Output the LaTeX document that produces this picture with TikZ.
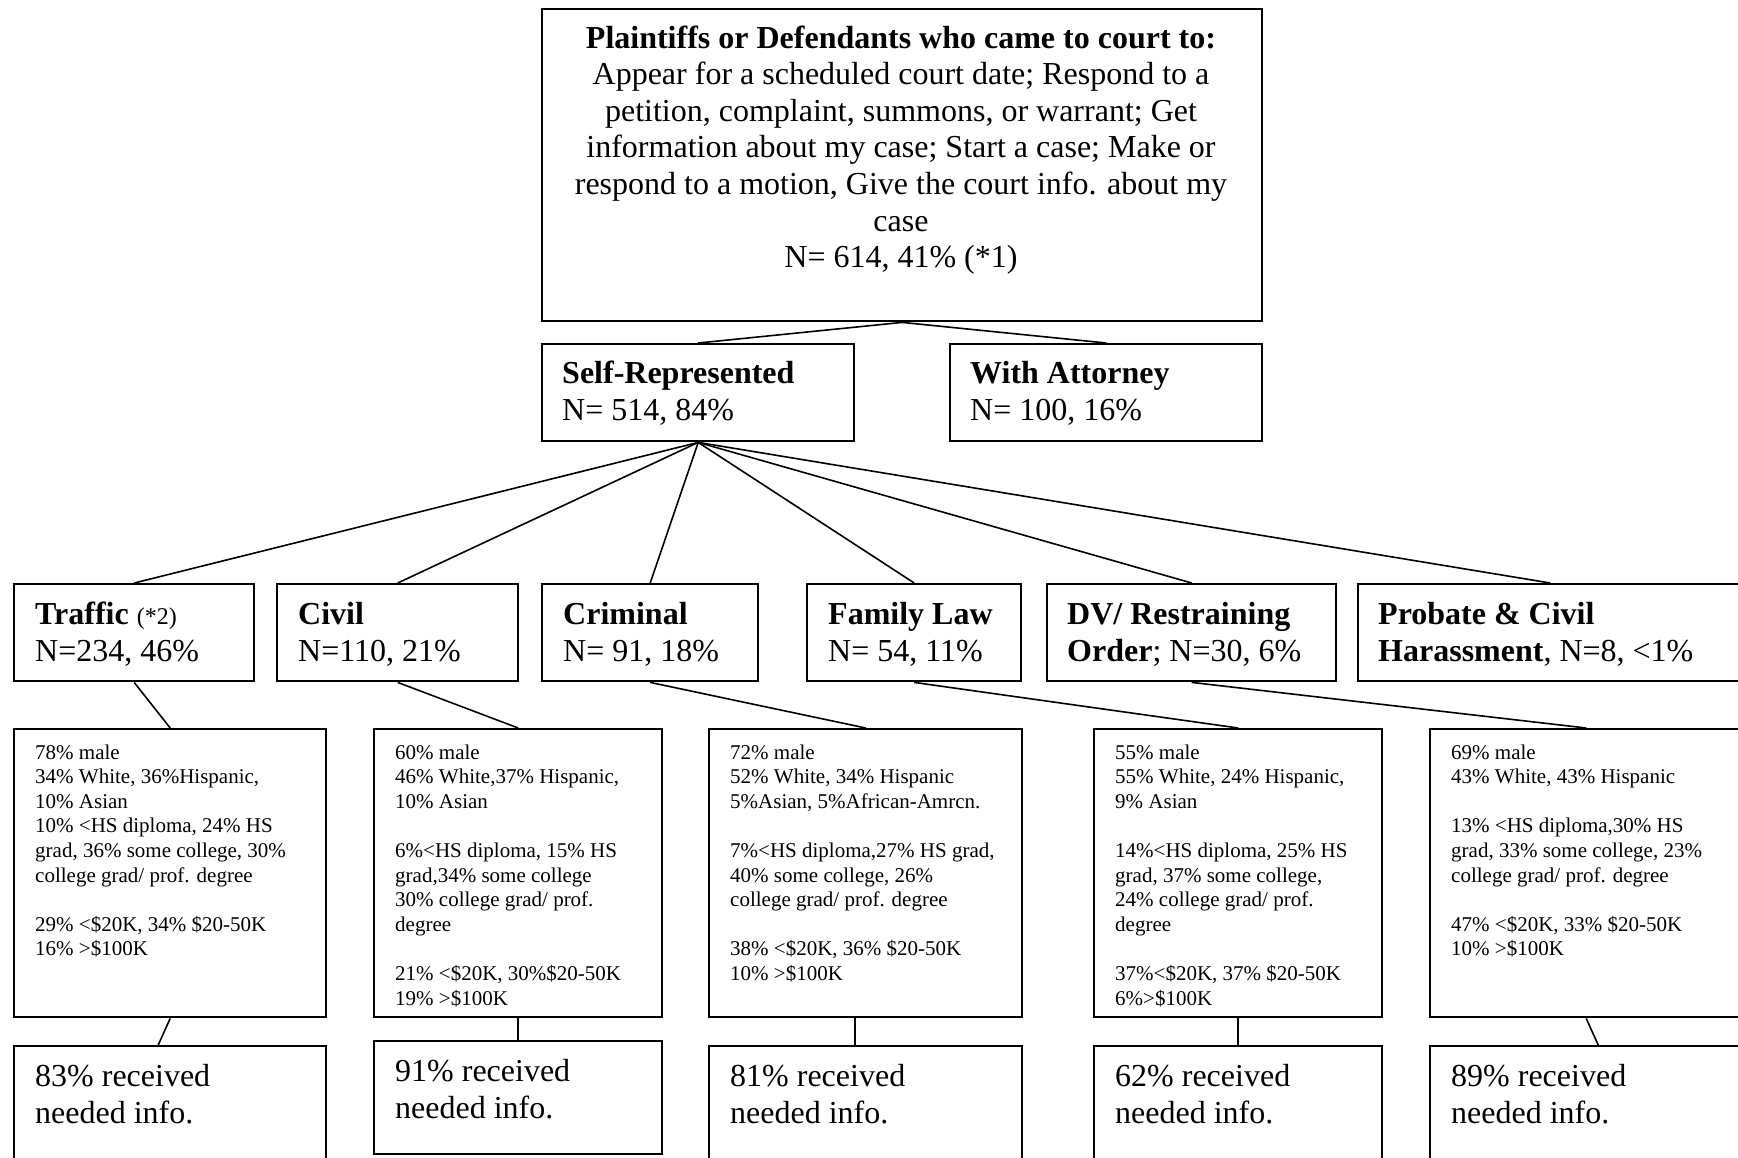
\documentclass[tikz,border=0pt]{standalone}
\usepackage{fontspec}
\setmainfont{Liberation Serif}
\usepackage{tikz}

% text lines whose anchor is the baseline of the first line
\newcommand{\leftlines}[1]{\begin{tabular}[t]{@{}l@{}}#1\end{tabular}}
\newcommand{\centerlines}[1]{\begin{tabular}[t]{@{}c@{}}#1\end{tabular}}

\begin{document}
\begin{tikzpicture}[x=0.5pt, y=-0.5pt, line width=1.2pt,
    box/.style={draw, rectangle, inner sep=0pt, anchor=north west},
    bigtext/.style={inner sep=0pt, anchor=base west, font=\fontsize{16}{18.5}\selectfont},
    smalltext/.style={inner sep=0pt, anchor=base west, font=\fontsize{10.5}{12.3}\selectfont},
    centertext/.style={inner sep=0pt, anchor=base, font=\fontsize{16}{18.3}\selectfont},
    link/.style={line width=0.8pt}]

    % fix page size
    \useasboundingbox (0, 0) rectangle (1738, 1157);
    \clip (0, 0) rectangle (1738, 1157);

    % draw top box
    \node[box, minimum width=360pt, minimum height=156pt] (top) at (541, 8) {};
    \node[centertext] (toptext) at (901, 48)
        {\centerlines{\textbf{Plaintiffs or Defendants who came to court to:}\\
         Appear for a scheduled court date; Respond to a\\
         petition, complaint, summons, or warrant; Get\\
         information about my case; Start a case; Make or\\
         respond to a motion, Give the court info. about my\\
         case\\
         N= 614, 41\% (*1)}};

    % draw representation boxes
    \node[box, minimum width=156pt, minimum height=48.5pt] (selfrep) at (541, 343) {};
    \node[box, minimum width=156pt, minimum height=48.5pt] (attorney) at (949, 343) {};
    \node[bigtext] (selfreptext) at (561, 383) {\leftlines{\textbf{Self-Represented}\\N= 514, 84\%}};
    \node[bigtext] (attorneytext) at (969, 383) {\leftlines{\textbf{With Attorney}\\N= 100, 16\%}};

    % draw case type boxes
    \node[box, minimum width=120pt, minimum height=48.5pt] (traffic) at (13, 583) {};
    \node[box, minimum width=120.5pt, minimum height=48.5pt] (civil) at (276, 583) {};
    \node[box, minimum width=108pt, minimum height=48.5pt] (criminal) at (541, 583) {};
    \node[box, minimum width=107pt, minimum height=48.5pt] (family) at (806, 583) {};
    \node[box, minimum width=144.5pt, minimum height=48.5pt] (dv) at (1046, 583) {};
    \node[box, minimum width=192pt, minimum height=48.5pt] (probate) at (1357, 583) {};
    \node[bigtext] (traffictext) at (34, 624) {\leftlines{\textbf{Traffic} {\fontsize{12}{14}\selectfont(*2)}\\N=234, 46\%}};
    \node[bigtext] (civiltext) at (297, 624) {\leftlines{\textbf{Civil}\\N=110, 21\%}};
    \node[bigtext] (criminaltext) at (562, 624) {\leftlines{\textbf{Criminal}\\N= 91, 18\%}};
    \node[bigtext] (familytext) at (827, 624) {\leftlines{\textbf{Family Law}\\N= 54, 11\%}};
    \node[bigtext] (dvtext) at (1066, 624) {\leftlines{\textbf{DV/ Restraining}\\\textbf{Order}; N=30, 6\%}};
    \node[bigtext] (probatetext) at (1377, 624) {\leftlines{\textbf{Probate \& Civil}\\\textbf{Harassment}, N=8, <1\%}};

    % draw profile boxes
    \node[box, minimum width=156pt, minimum height=144pt] (trafficdemo) at (13, 728) {};
    \node[box, minimum width=144pt, minimum height=144pt] (civildemo) at (373, 728) {};
    \node[box, minimum width=156.5pt, minimum height=144pt] (crimdemo) at (708, 728) {};
    \node[box, minimum width=144pt, minimum height=144pt] (dvdemo) at (1093, 728) {};
    \node[box, minimum width=156pt, minimum height=144pt] (probdemo) at (1429, 728) {};
    \node[smalltext] (trafficdemotext) at (34, 759)
        {\leftlines{78\% male\\34\% White, 36\%Hispanic,\\10\% Asian\\10\% <HS diploma, 24\% HS\\
         grad, 36\% some college, 30\%\\college grad/ prof. degree\\[12.3pt]
         29\% <\$20K, 34\% \$20-50K\\16\% >\$100K}};
    \node[smalltext] (civildemotext) at (394, 759)
        {\leftlines{60\% male\\46\% White,37\% Hispanic,\\10\% Asian\\[12.3pt]
         6\%<HS diploma, 15\% HS\\grad,34\% some college\\30\% college grad/ prof.\\degree\\[12.3pt]
         21\% <\$20K, 30\%\$20-50K\\19\% >\$100K}};
    \node[smalltext] (crimdemotext) at (729, 759)
        {\leftlines{72\% male\\52\% White, 34\% Hispanic\\5\%Asian, 5\%African-Amrcn.\\[12.3pt]
         7\%<HS diploma,27\% HS grad,\\40\% some college, 26\%\\college grad/ prof. degree\\[12.3pt]
         38\% <\$20K, 36\% \$20-50K\\10\% >\$100K}};
    \node[smalltext] (dvdemotext) at (1114, 759)
        {\leftlines{55\% male\\55\% White, 24\% Hispanic,\\9\% Asian\\[12.3pt]
         14\%<HS diploma, 25\% HS\\grad, 37\% some college,\\24\% college grad/ prof.\\degree\\[12.3pt]
         37\%<\$20K, 37\% \$20-50K\\6\%>\$100K}};
    \node[smalltext] (probdemotext) at (1450, 759)
        {\leftlines{69\% male\\43\% White, 43\% Hispanic\\[12.3pt]
         13\% <HS diploma,30\% HS\\grad, 33\% some college, 23\%\\college grad/ prof. degree\\[12.3pt]
         47\% <\$20K, 33\% \$20-50K\\10\% >\$100K}};

    % draw result boxes
    \node[box, minimum width=156pt, minimum height=56.5pt] (trafficres) at (13, 1045) {};
    \node[box, minimum width=144pt, minimum height=56.5pt] (civilres) at (373, 1040) {};
    \node[box, minimum width=156.5pt, minimum height=56.5pt] (crimres) at (708, 1045) {};
    \node[box, minimum width=144pt, minimum height=56.5pt] (dvres) at (1093, 1045) {};
    \node[box, minimum width=156pt, minimum height=56.5pt] (probres) at (1429, 1045) {};
    \node[bigtext] (trafficrestext) at (34, 1086) {\leftlines{83\% received\\needed info.}};
    \node[bigtext] (civilrestext) at (394, 1081) {\leftlines{91\% received\\needed info.}};
    \node[bigtext] (crimrestext) at (729, 1086) {\leftlines{81\% received\\needed info.}};
    \node[bigtext] (dvrestext) at (1114, 1086) {\leftlines{62\% received\\needed info.}};
    \node[bigtext] (probrestext) at (1450, 1086) {\leftlines{89\% received\\needed info.}};

    % draw connectors
    \draw[link] (top.south) -- (selfrep.north);
    \draw[link] (top.south) -- (attorney.north);
    \draw[link] (selfrep.south) -- (traffic.north);
    \draw[link] (selfrep.south) -- (civil.north);
    \draw[link] (selfrep.south) -- (criminal.north);
    \draw[link] (selfrep.south) -- (family.north);
    \draw[link] (selfrep.south) -- (dv.north);
    \draw[link] (selfrep.south) -- (probate.north);
    \draw[link] (traffic.south) -- (trafficdemo.north);
    \draw[link] (civil.south) -- (civildemo.north);
    \draw[link] (criminal.south) -- (crimdemo.north);
    \draw[link] (family.south) -- (dvdemo.north);
    \draw[link] (dv.south) -- (probdemo.north);
    \draw[link] (trafficdemo.south) -- ([xshift=-6pt]trafficres.north);
    \draw[link] (civildemo.south) -- (civilres.north);
    \draw[link] ([xshift=-5.5pt]crimdemo.south) -- ([xshift=-5.5pt]crimres.north);
    \draw[link] (dvdemo.south) -- (dvres.north);
    \draw[link] (probdemo.south) -- ([xshift=6pt]probres.north);

\end{tikzpicture}
\end{document}
